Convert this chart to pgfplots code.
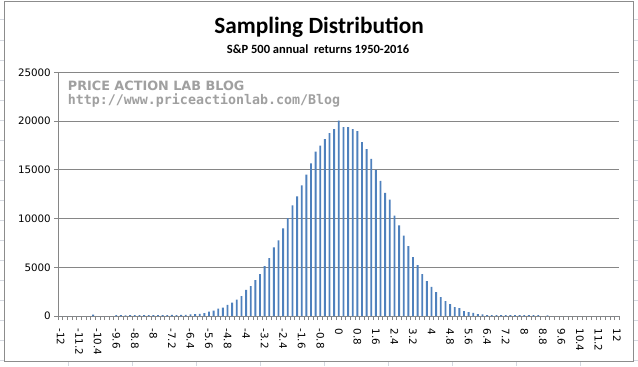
\documentclass[border=0pt]{standalone}
\usepackage{fontspec}
\setmainfont{DejaVu Sans}
\newfontfamily\calib{Carlito}
\newfontfamily\monof{DejaVu Sans Mono}
\usepackage{pgfplots}
\pgfplotsset{compat=1.18}
\usepackage{pgfplotstable}
\definecolor{barblue}{HTML}{4F81BD}
\definecolor{gridgray}{HTML}{868686}
\definecolor{wmgray}{HTML}{A0A0A0}
\definecolor{cellline}{HTML}{D4D8E0}
\definecolor{framegray}{HTML}{8C8C8C}

\pgfplotstableread{
x y
-12.0 0
-11.8 0
-11.6 0
-11.4 0
-11.2 0
-11.0 0
-10.8 0
-10.6 130
-10.4 0
-10.2 0
-10.0 0
-9.8 0
-9.6 90
-9.4 90
-9.2 70
-9.0 90
-8.8 100
-8.6 90
-8.4 100
-8.2 90
-8.0 100
-7.8 90
-7.6 100
-7.4 100
-7.2 110
-7.0 100
-6.8 120
-6.6 120
-6.4 160
-6.2 200
-6.0 220
-5.8 300
-5.6 450
-5.4 560
-5.2 750
-5.0 860
-4.8 1130
-4.6 1370
-4.4 1670
-4.2 2050
-4.0 2670
-3.8 3080
-3.6 3680
-3.4 4300
-3.2 5110
-3.0 5930
-2.8 7040
-2.6 7760
-2.4 9000
-2.2 10050
-2.0 11360
-1.8 12270
-1.6 13400
-1.4 14510
-1.2 15660
-1.0 16880
-0.8 17500
-0.6 18160
-0.4 18780
-0.2 19180
0.0 20070
0.2 19390
0.4 19390
0.6 19180
0.8 18980
1.0 17860
1.2 17140
1.4 16120
1.6 15000
1.8 13880
2.0 12650
2.2 11940
2.4 10310
2.6 9300
2.8 8240
3.0 7180
3.2 6050
3.4 5230
3.6 4310
3.8 3590
4.0 3000
4.2 2460
4.4 1950
4.6 1540
4.8 1230
5.0 920
5.2 820
5.4 510
5.6 410
5.8 310
6.0 200
6.2 170
6.4 100
6.6 90
6.8 80
7.0 90
7.2 80
7.4 90
7.6 80
7.8 90
8.0 80
8.2 90
8.4 80
8.6 90
8.8 0
9.0 60
9.2 0
9.4 0
9.6 0
9.8 0
10.0 0
10.2 0
10.4 0
10.6 0
10.8 0
11.0 0
11.2 0
11.4 0
11.6 0
11.8 0
12.0 0
}\datatable

\begin{document}
\begin{tikzpicture}
\begin{scope}[x=1bp,y=1bp]
\useasboundingbox (0,0) rectangle (638,366);
\fill[white] (0,0) rectangle (638,366);
\foreach \k in {1,...,18} {
  \draw[cellline, line width=1bp] (0,366-20*\k) -- (4,366-20*\k);
  \draw[cellline, line width=1bp] (634,366-20*\k) -- (638,366-20*\k);
}
\foreach \c in {1,...,9} {
  \draw[cellline, line width=1bp] (4.3+64*\c,0) -- (4.3+64*\c,4.5);
}
\draw[framegray, line width=1bp] (4.5,4.5) rectangle (633,364);
\node[anchor=base, inner sep=0pt] at (319,332.5) {\calib\bfseries\fontsize{23.3bp}{26bp}\selectfont Sampling Distribution};
\node[anchor=base, inner sep=0pt] at (318,312.7) {\calib\bfseries\fontsize{12.5bp}{15bp}\selectfont S\&P 500 annual\ \ returns 1950-2016};
\end{scope}

\begin{axis}[
  at={(58.3bp,50bp)}, anchor=south west,
  scale only axis, width=561bp, height=243.5bp,
  xmin=-12.1, xmax=12.1, ymin=0, ymax=25000,
  axis lines=left,
  axis line style={-, gridgray, line width=1bp},
  ybar, bar width=0.08,
  tick align=outside,
  xtick={-12,-11.2,-10.4,-9.6,-8.8,-8,-7.2,-6.4,-5.6,-4.8,-4,-3.2,-2.4,-1.6,-0.8,0,0.8,1.6,2.4,3.2,4,4.8,5.6,6.4,7.2,8,8.8,9.6,10.4,11.2,12},
  xticklabels={-12,-11.2,-10.4,-9.6,-8.8,-8,-7.2,-6.4,-5.6,-4.8,-4,-3.2,-2.4,-1.6,-0.8,0,0.8,1.6,2.4,3.2,4,4.8,5.6,6.4,7.2,8,8.8,9.6,10.4,11.2,12},
  minor xtick={-12.1,-11.9,...,12.2},
  every major x tick/.append style={draw=none},
  every minor x tick/.append style={gridgray, line width=1bp},
  minor tick length=4bp,
  major tick length=4bp,
  xticklabel shift=5bp,
  ytick={0,5000,10000,15000,20000,25000},
  yticklabels={0,5000,10000,15000,20000,25000},
  scaled y ticks=false,
  ytick style={gridgray, line width=1bp},
  ymajorgrids,
  grid style={gridgray, line width=1bp},
  xticklabel style={rotate=-90, anchor=west, font=\fontsize{10.3bp}{12bp}\selectfont},
  yticklabel style={font=\fontsize{10.3bp}{12bp}\selectfont},
]
\addplot[fill=barblue, draw=none] table[x=x, y=y] {\datatable};
\end{axis}

\begin{scope}[x=1bp,y=1bp]
\node[anchor=base west, inner sep=0pt, text=wmgray] at (67.7,276) {\bfseries\fontsize{12.8bp}{14bp}\selectfont PRICE ACTION LAB BLOG};
\node[anchor=base west, inner sep=0pt, text=wmgray] at (67.7,261.5) {\monof\bfseries\fontsize{13.3bp}{15bp}\selectfont http://www.priceactionlab.com/Blog};
\end{scope}
\end{tikzpicture}
\end{document}
